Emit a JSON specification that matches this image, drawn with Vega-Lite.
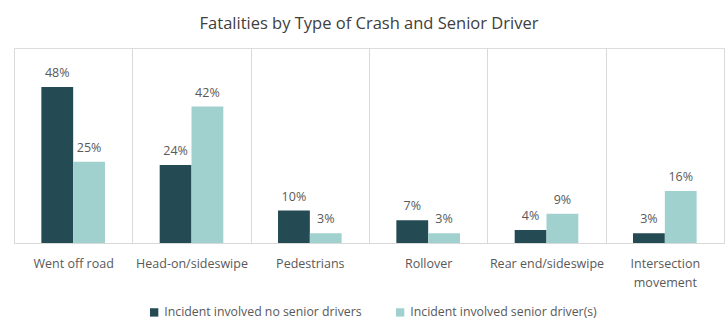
{
  "$schema": "https://vega.github.io/schema/vega-lite/v6.json",
  "width": 710,
  "height": 195,
  "autosize": {"type": "none"},
  "padding": {"left": 14, "top": 48, "right": 2, "bottom": 81},
  "background": "white",
  "title": {"text": "Fatalities by Type of Crash and Senior Driver", "fontSize": 16.5, "font": "Open Sans", "fontWeight": "normal", "color": "#404040", "offset": 16},
  "data": {"values": [
    {"category": "Went off road", "group": "Incident involved no senior drivers", "value": 0.48},
    {"category": "Went off road", "group": "Incident involved senior driver(s)", "value": 0.25},
    {"category": "Head-on/sideswipe", "group": "Incident involved no senior drivers", "value": 0.24},
    {"category": "Head-on/sideswipe", "group": "Incident involved senior driver(s)", "value": 0.42},
    {"category": "Pedestrians", "group": "Incident involved no senior drivers", "value": 0.10},
    {"category": "Pedestrians", "group": "Incident involved senior driver(s)", "value": 0.03},
    {"category": "Rollover", "group": "Incident involved no senior drivers", "value": 0.07},
    {"category": "Rollover", "group": "Incident involved senior driver(s)", "value": 0.03},
    {"category": "Rear end/sideswipe", "group": "Incident involved no senior drivers", "value": 0.04},
    {"category": "Rear end/sideswipe", "group": "Incident involved senior driver(s)", "value": 0.09},
    {"category": "Intersection movement", "group": "Incident involved no senior drivers", "value": 0.03},
    {"category": "Intersection movement", "group": "Incident involved senior driver(s)", "value": 0.16}
  ]},
  "encoding": {
    "x": {"field": "category", "type": "nominal", "sort": null,
      "scale": {"paddingInner": 0, "paddingOuter": 0},
      "axis": {"title": null, "labelAngle": 0, "grid": true, "tickBand": "extent", "ticks": false,
        "gridColor": "#d9d9d9", "domainColor": "#d9d9d9", "labelColor": "#595959", "labelFont": "Open Sans",
        "labelFontSize": 12.5, "labelPadding": 14, "labelLimit": 0, "labelLineHeight": 19,
        "labelExpr": "datum.value == 'Intersection movement' ? ['Intersection', 'movement'] : datum.value"}},
    "xOffset": {"field": "group", "type": "nominal", "scale": {"paddingInner": 0, "paddingOuter": 0.86}},
    "y": {"field": "value", "type": "quantitative", "scale": {"domain": [0, 0.6]}, "axis": null}
  },
  "layer": [
    {"mark": {"type": "bar"},
     "encoding": {"color": {"field": "group", "type": "nominal",
        "scale": {"range": ["#244a53", "#a0d1cf"]},
        "legend": {"title": null, "orient": "none", "legendX": 134, "legendY": 258, "direction": "horizontal",
          "symbolType": "square", "symbolSize": 70, "symbolStrokeWidth": 0, "labelFont": "Open Sans", "labelFontSize": 12.3,
          "labelColor": "#595959", "columnPadding": 32, "labelLimit": 0}}}},
    {"mark": {"type": "text", "baseline": "bottom", "dy": -7, "font": "Open Sans", "fontSize": 12.5, "color": "#595959"},
     "encoding": {"text": {"field": "value", "type": "quantitative", "format": ".0%"}}}
  ]
}
